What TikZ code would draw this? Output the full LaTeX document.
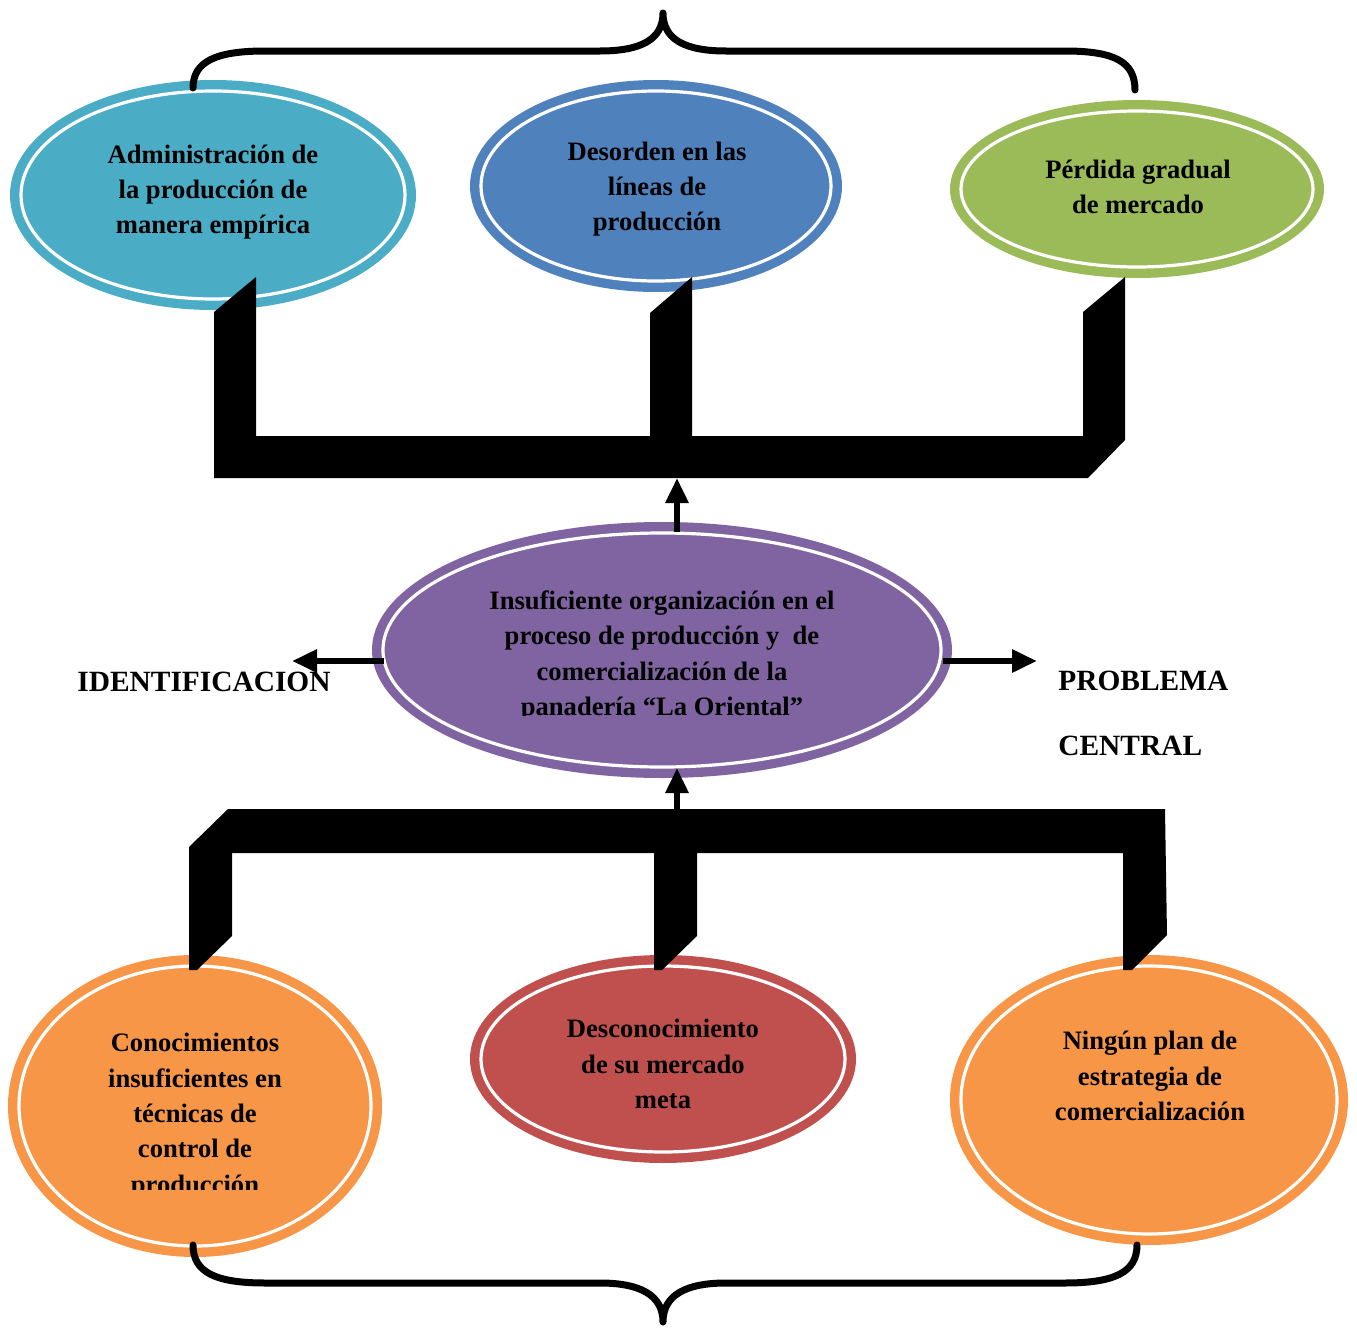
\documentclass[tikz,border=0pt]{standalone}
\usepackage{fontspec}
\setmainfont{Liberation Serif}
\usetikzlibrary{shapes.geometric,arrows.meta}
\definecolor{cteal}{HTML}{4BACC6}
\definecolor{cblue}{HTML}{4F81BD}
\definecolor{cgreen}{HTML}{9BBB59}
\definecolor{cpurple}{HTML}{8064A2}
\definecolor{corange}{HTML}{F79646}
\definecolor{cred}{HTML}{C0504D}
\begin{document}
\begin{tikzpicture}[x=0.5pt,y=-0.5pt,
  bubble/.style={ellipse, inner sep=0pt, outer sep=0pt, fill=#1},
  ring/.style={draw=white, line width=1.6pt},
  txt/.style={align=center, inner sep=0pt, font=\bfseries\fontsize{13.3}{17.7}\selectfont, text=black},
  lbl/.style={font=\bfseries\fontsize{14.7}{17}\selectfont, anchor=base west, inner sep=0pt},
  arr/.style={line width=3pt, -{Triangle[length=12.5pt,width=11pt]}},
  brace/.style={line width=3.5pt, line cap=round, line join=round},
]
\useasboundingbox (0,0) rectangle (1357,1328);

% effects (top row)
\node[bubble=cteal, minimum width=203pt, minimum height=115pt] (e1) at (213,195) {};
\draw[ring] (e1.center) ellipse [x radius=96pt, y radius=52pt];
\node[bubble=cblue, minimum width=186pt, minimum height=106pt] (e2) at (656,186) {};
\draw[ring] (e2.center) ellipse [x radius=87.5pt, y radius=47.5pt];
\node[bubble=cgreen, minimum width=187pt, minimum height=89pt] (e3) at (1137,189) {};
\draw[ring] (e3.center) ellipse [x radius=88pt, y radius=39pt];

% central problem
\node[bubble=cpurple, minimum width=290pt, minimum height=128pt] (e4) at (662,650) {};
\draw[ring] (e4.center) ellipse [x radius=139.5pt, y radius=58.5pt];

% causes (bottom row)
\node[bubble=corange, minimum width=187pt, minimum height=151pt] (e5) at (195,1106) {};
\draw[ring] (e5.center) ellipse [x radius=88pt, y radius=70pt];
\node[bubble=cred, minimum width=193pt, minimum height=104pt] (e6) at (663,1059) {};
\draw[ring] (e6.center) ellipse [x radius=91pt, y radius=46.5pt];
\node[bubble=corange, minimum width=199pt, minimum height=145pt] (e7) at (1149,1100) {};
\draw[ring] (e7.center) ellipse [x radius=94pt, y radius=67pt];

% texts
\node[txt] (t1) at (213,192) {Administración de\\la producción de\\manera empírica};
\node[txt] (t2) at (657,189) {Desorden en las\\líneas de\\producción};
\node[txt] (t3) at (1138,187) {Pérdida gradual\\de mercado};
\begin{scope}
  \clip (372,560) rectangle (953,715);
  \node[txt] (t4) at (662,656) {Insuficiente organización en el\\proceso de producción y\ \ de\\comercialización de la\\panadería “La Oriental”};
\end{scope}
\begin{scope}
  \clip (8,1000) rectangle (382,1189);
  \node[txt] (t5) at (195,1116) {Conocimientos\\insuficientes en\\técnicas de\\control de\\producción};
\end{scope}
\node[txt] (t6) at (663,1064) {Desconocimiento\\de su mercado\\meta};
\node[txt] (t7) at (1150,1076) {Ningún plan de\\estrategia de\\comercialización};

% bracket joining the effects
\fill (214,478) -- (214,312) -- (256,277) -- (256,436) -- (650,436) -- (650,313)
  -- (692,277) -- (692,436) -- (1083,436) -- (1083,312) -- (1125,277)
  -- (1125,440) -- (1088,478) -- cycle;
% bracket joining the causes
\fill (189,847) -- (228,809) -- (1165,809) -- (1167,935) -- (1132,970) -- (1123,970)
  -- (1123,853) -- (697,853) -- (697,936) -- (662,970) -- (654,970) -- (654,853)
  -- (232,853) -- (232,936) -- (197,970) -- (189,970) -- cycle;

\coordinate (topbar) at (677,478);
\coordinate (botbar) at (677,809);
\coordinate (lt) at (292,661);
\coordinate (rt) at (1037,661);

% arrows
\draw[arr] (e4.north -| topbar) ++(0,10) -- (topbar);
\draw[arr, shorten >=-5pt] (botbar) -- (e4.south -| botbar);
\draw[arr] (e4.west |- lt) ++(12,0) -- (lt);
\draw[arr] (e4.east |- rt) ++(-9,0) -- (rt);

% labels
\node[lbl] (lid) at (77,691) {IDENTIFICACION};
\node[lbl] (lp) at (1058,690) {PROBLEMA};
\node[lbl] (lc) at (1058,755) {CENTRAL};

% braces
\draw[brace] (193,88) .. controls (193,62) and (215,51) .. (265,51) -- (600,51)
  .. controls (640,51) and (663,40) .. (663,13)
  .. controls (663,40) and (686,51) .. (726,51) -- (1065,51)
  .. controls (1115,51) and (1135,62) .. (1135,90);
\draw[brace] (193,1245) .. controls (193,1272) and (215,1283) .. (265,1283) -- (600,1283)
  .. controls (640,1283) and (663,1295) .. (663,1322)
  .. controls (663,1295) and (686,1283) .. (726,1283) -- (1065,1283)
  .. controls (1115,1283) and (1137,1272) .. (1137,1245);
\end{tikzpicture}
\end{document}
